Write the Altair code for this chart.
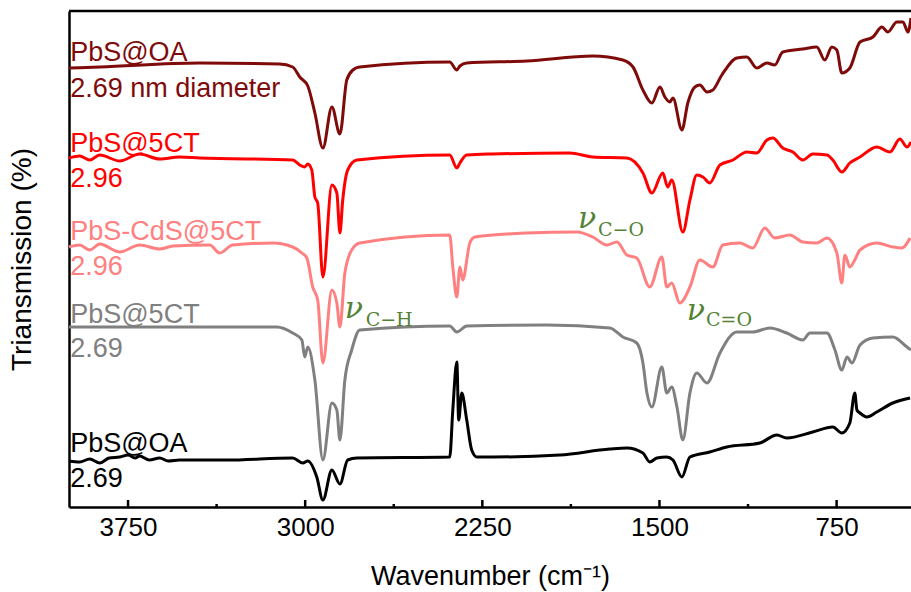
import altair as alt
import pandas as pd

# FTIR spectra, stacked with vertical offsets (arbitrary transmission units)
SERIES = [
    "PbS@OA 2.69 nm diameter",
    "PbS@5CT 2.96",
    "PbS-CdS@5CT 2.96",
    "PbS@5CT 2.69",
    "PbS@OA 2.69",
]
COLORS = ["#7f0a0a", "#ff0000", "#ff8080", "#808080", "#000000"]

wn_oa_large = [4000, 3870, 3447, 3108, 3053, 3023, 2989, 2959, 2925, 2887,
               2853, 2824, 2798, 2769, 2388, 2358, 2345, 2316, 2062, 1782,
               1655, 1612, 1570, 1532, 1498, 1477, 1456, 1443, 1405, 1380,
               1350, 1329, 1299, 1274, 1236, 1172, 1130, 1088, 1045, 1012,
               978, 893, 834, 800, 770, 749, 728, 694, 651, 596,
               558, 533, 495, 469, 448, 435]
t_oa_large = [439, 440, 444, 443, 440, 430, 421, 394, 359, 400,
              373, 427, 437, 440, 445, 437, 441, 444, 446, 451,
              447, 440, 417, 404, 420, 410, 405, 409, 377, 404,
              420, 422, 415, 417, 432, 449, 450, 439, 444, 442,
              455, 458, 460, 447, 460, 457, 434, 439, 465, 470,
              480, 475, 485, 485, 475, 489]

wn_5ct_296 = [4000, 3955, 3912, 3870, 3785, 3701, 3616, 3531, 3447, 3053,
              3023, 3002, 2989, 2972, 2959, 2947, 2925, 2887, 2866, 2853,
              2841, 2820, 2781, 2388, 2358, 2345, 2316, 2206, 1880, 1782,
              1638, 1570, 1532, 1486, 1465, 1448, 1401, 1371, 1342, 1316,
              1287, 1244, 1189, 1130, 1088, 1045, 1020, 978, 935, 893,
              851, 791, 766, 728, 694, 651, 580, 524, 482, 452,
              435]
t_5ct_296 = [349, 351, 347, 352, 346, 353, 348, 350, 349, 347,
             342, 340, 343, 337, 310, 304, 230, 322, 314, 274,
             307, 337, 347, 352, 339, 344, 352, 353, 354, 350,
             349, 334, 314, 334, 320, 327, 275, 307, 332, 330,
             324, 342, 347, 355, 354, 367, 369, 359, 355, 347,
             353, 352, 347, 335, 344, 350, 360, 355, 368, 360,
             365]

wn_cds_296 = [4000, 3955, 3912, 3870, 3785, 3701, 3616, 3560, 3404, 3362,
              3307, 3137, 3053, 3014, 2993, 2968, 2947, 2925, 2887, 2866,
              2853, 2832, 2803, 2769, 2388, 2375, 2358, 2345, 2333, 2303,
              2282, 2062, 1850, 1782, 1723, 1680, 1638, 1596, 1541, 1490,
              1469, 1448, 1414, 1371, 1329, 1274, 1232, 1160, 1105, 1054,
              1012, 948, 893, 834, 791, 749, 728, 715, 694, 673,
              651, 580, 512, 474, 439]
t_cds_296 = [260, 262, 257, 263, 255, 262, 258, 261, 262, 254,
             262, 264, 260, 254, 249, 220, 207, 144, 217, 204,
             180, 234, 257, 264, 272, 240, 210, 240, 227, 264,
             270, 274, 275, 270, 262, 265, 252, 249, 220, 250,
             220, 224, 204, 220, 247, 240, 262, 264, 259, 279,
             269, 272, 265, 264, 269, 254, 224, 252, 240, 247,
             257, 264, 260, 259, 269]

wn_5ct_269 = [4000, 3120, 3053, 3014, 3002, 2989, 2959, 2925, 2887, 2866,
              2853, 2832, 2803, 2769, 2388, 2358, 2316, 1977, 1710, 1655,
              1596, 1570, 1553, 1532, 1490, 1469, 1448, 1426, 1401, 1371,
              1342, 1299, 1244, 1172, 1105, 1033, 961, 893, 863, 791,
              757, 728, 706, 685, 651, 596, 512, 452, 435]
t_5ct_269 = [180, 180, 174, 167, 150, 160, 127, 47, 104, 97,
             67, 127, 157, 177, 181, 175, 181, 182, 179, 170,
             164, 144, 114, 100, 140, 114, 120, 100, 67, 114,
             134, 124, 154, 175, 175, 179, 174, 167, 174, 174,
             157, 137, 150, 144, 162, 169, 170, 160, 157]

wn_oa_269 = [4000, 3955, 3912, 3870, 3830, 3785, 3750, 3720, 3701, 3660,
             3616, 3580, 3531, 3332, 3053, 3010, 2989, 2951, 2925, 2887,
             2853, 2820, 2781, 2388, 2375, 2358, 2350, 2337, 2316, 2295,
             2273, 2206, 1922, 1710, 1638, 1570, 1541, 1511, 1469, 1443,
             1405, 1371, 1287, 1215, 1075, 1003, 961, 851, 766, 728,
             694, 673, 664, 651, 622, 580, 512, 439]
t_oa_269 = [46, 45, 48, 44, 49, 50, 52, 49, 51, 47,
            49, 46, 47, 47, 49, 44, 46, 30, 7, 37,
            23, 47, 49, 50, 97, 145, 87, 114, 87, 57,
            50, 50, 52, 58, 59, 54, 45, 49, 50, 47,
            30, 50, 55, 60, 64, 72, 69, 75, 80, 74,
            84, 114, 97, 94, 90, 95, 104, 109]

# sample labels at the left edge
label_text = ["PbS@OA", "2.69 nm diameter", "PbS@5CT", "2.96", "PbS-CdS@5CT",
              "2.96", "PbS@5CT", "2.69", "PbS@OA", "2.69"]
label_series = [SERIES[0], SERIES[0], SERIES[1], SERIES[1], SERIES[2],
                SERIES[2], SERIES[3], SERIES[3], SERIES[4], SERIES[4]]
label_t = [446, 410, 355, 320, 267, 232, 184, 150, 55, 20]
label_wn = [3995] * 10

# vibration-mode annotations: nu symbol and its subscript
nu_wn = [2832, 1845, 1384]
nu_t = [189, 279, 187]
sub_text = ["C\u2212H", "C\u2212O", "C=O"]
sub_wn = [2744, 1760, 1303]
sub_t = [181, 271, 181]

major_ticks = [3750, 3000, 2250, 1500, 750]
minor_ticks = [3375, 2625, 1875, 1125]

W, H = 842, 496
FONT = "Liberation Sans"
GREEN = "#548235"

frames = []
for name, wn, t in zip(SERIES,
                       [wn_oa_large, wn_5ct_296, wn_cds_296, wn_5ct_269, wn_oa_269],
                       [t_oa_large, t_5ct_296, t_cds_296, t_5ct_269, t_oa_269]):
    frames.append(pd.DataFrame({"wn": wn, "t": t, "series": name}))
spectra = pd.concat(frames, ignore_index=True)

x_scale = alt.Scale(domain=[4000, 435], nice=False, zero=False)
y_scale = alt.Scale(domain=[0, 496], nice=False, zero=False)
color_scale = alt.Scale(domain=SERIES, range=COLORS)

x_axis = alt.Axis(values=major_ticks, format="d", ticks=False, grid=False,
                  domainColor="black", domainWidth=2.5, labelFont=FONT,
                  labelFontSize=26, labelColor="black", labelPadding=7,
                  title="Wavenumber (cm\u207b\u00b9)", titleFont=FONT,
                  titleFontSize=27, titleFontWeight="normal", titleColor="black",
                  titlePadding=23)
y_axis = alt.Axis(labels=False, ticks=False, grid=False, domainColor="black",
                  domainWidth=2.5, title="Triansmission (%)", titleFont=FONT,
                  titleFontSize=28, titleFontWeight="normal", titleColor="black",
                  titlePadding=33)


def X():
    return alt.X("wn:Q", scale=x_scale, axis=x_axis)


def Y():
    return alt.Y("t:Q", scale=y_scale, axis=y_axis)


# draw the lower spectra first so the upper ones sit on top
line_layers = [
    alt.Chart(spectra[spectra["series"] == s]).mark_line(
        strokeWidth=3, strokeJoin="round", interpolate="monotone").encode(
        x=X(), y=Y(),
        color=alt.Color("series:N", scale=color_scale, legend=None),
    )
    for s in SERIES[::-1]
]

labels_df = pd.DataFrame({"wn": label_wn, "t": label_t, "text": label_text,
                          "series": label_series})
labels = alt.Chart(labels_df).mark_text(align="left", baseline="alphabetic",
                                        font=FONT, fontSize=27).encode(
    x=X(), y=Y(), text="text:N",
    color=alt.Color("series:N", scale=color_scale, legend=None),
)

nu_df = pd.DataFrame({"wn": nu_wn, "t": nu_t, "text": ["\u03bd"] * 3})
nu = alt.Chart(nu_df).mark_text(align="left", baseline="alphabetic",
                                font="DejaVu Serif", fontStyle="italic",
                                fontSize=30, color=GREEN).encode(
    x=X(), y=Y(), text="text:N")

sub_df = pd.DataFrame({"wn": sub_wn, "t": sub_t, "text": sub_text})
subs = alt.Chart(sub_df).mark_text(align="left", baseline="alphabetic",
                                   font="DejaVu Serif", fontSize=19, color=GREEN).encode(
    x=X(), y=Y(), text="text:N")

# inward ticks on the bottom axis
major_df = pd.DataFrame({"wn": major_ticks})
minor_df = pd.DataFrame({"wn": minor_ticks})
major_rules = alt.Chart(major_df).mark_rule(color="black", strokeWidth=2.5).encode(
    x=X(), y=alt.value(H), y2=alt.value(H - 7))
minor_rules = alt.Chart(minor_df).mark_rule(color="black", strokeWidth=2.5).encode(
    x=X(), y=alt.value(H), y2=alt.value(H - 3))

# top frame line
top_frame = alt.Chart(pd.DataFrame({"a": [0]})).mark_rule(color="black", strokeWidth=2.5).encode(
    x=alt.value(0), x2=alt.value(W), y=alt.value(0))

chart = alt.layer(
    *line_layers, labels, nu, subs, major_rules, minor_rules, top_frame
).properties(
    width=W, height=H,
    autosize=alt.AutoSizeParams(type="none"),
    padding={"left": 69, "top": 11, "right": 0, "bottom": 85},
    background="white",
).configure_view(stroke=None)

chart.save("out.html", embed_options={"renderer": "svg", "actions": False})
